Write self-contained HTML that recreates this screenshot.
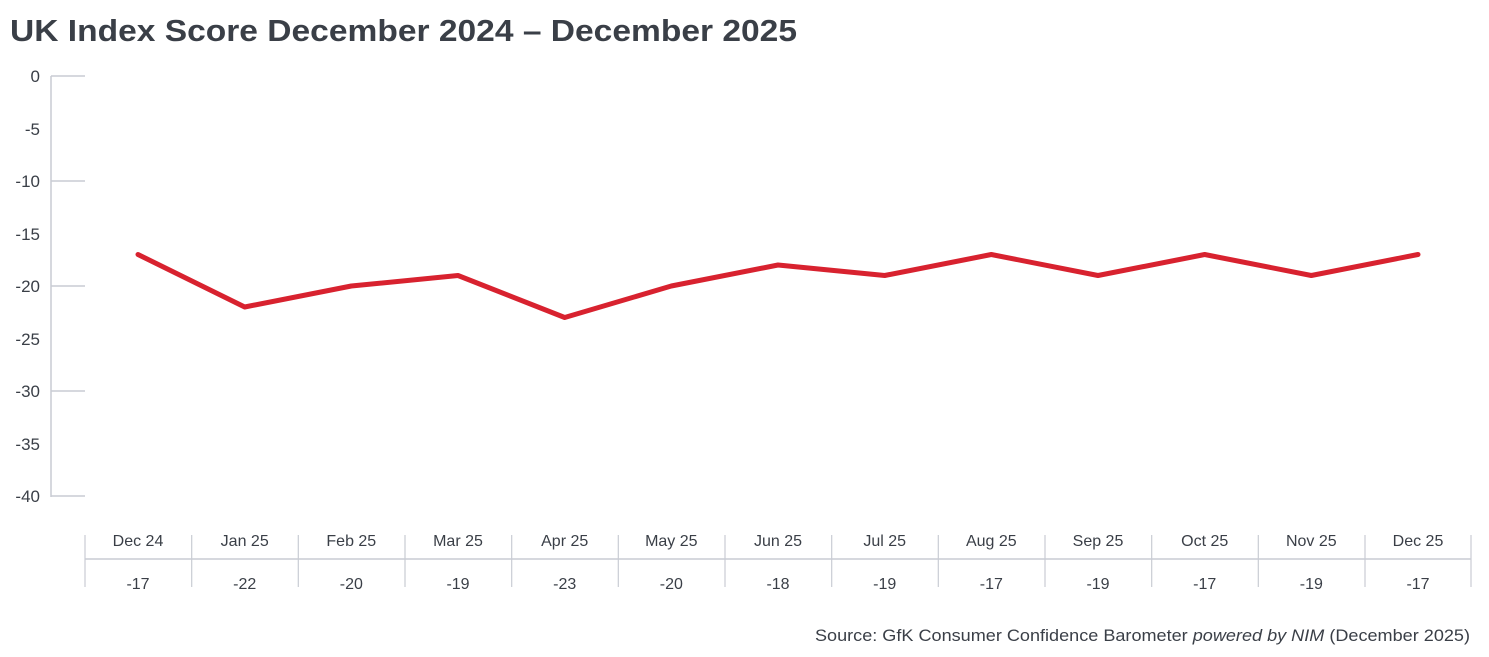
<!DOCTYPE html>
<html><head><meta charset="utf-8"><style>
html,body{margin:0;padding:0;background:#fff;}
svg{display:block;}
text{font-family:"Liberation Sans",sans-serif;fill:#3a3f47;}
</style></head><body>
<svg width="1489" height="657" viewBox="0 0 1489 657" xmlns="http://www.w3.org/2000/svg">
<text x="10" y="41" font-size="31" font-weight="bold" fill="#2e343c" textLength="787" lengthAdjust="spacingAndGlyphs">UK Index Score December 2024 – December 2025</text>
<g stroke="#c9ccd3" stroke-width="1.5">
<line x1="51" y1="76" x2="51" y2="497"/>
<line x1="51" y1="76" x2="85" y2="76"/>
<line x1="51" y1="181" x2="85" y2="181"/>
<line x1="51" y1="286" x2="85" y2="286"/>
<line x1="51" y1="391" x2="85" y2="391"/>
<line x1="51" y1="496" x2="85" y2="496"/>
<line x1="85" y1="559" x2="1471" y2="559"/>
</g>
<g font-size="17" text-anchor="end">
<text x="40" y="82">0</text>
<text x="40" y="135">-5</text>
<text x="40" y="187">-10</text>
<text x="40" y="240">-15</text>
<text x="40" y="292">-20</text>
<text x="40" y="345">-25</text>
<text x="40" y="397">-30</text>
<text x="40" y="450">-35</text>
<text x="40" y="502">-40</text>
</g>
<g stroke="#c9ccd3" stroke-width="1.2">
<line x1="85" y1="535" x2="85" y2="587"/>
<line x1="191.7" y1="535" x2="191.7" y2="587"/>
<line x1="298.3" y1="535" x2="298.3" y2="587"/>
<line x1="405" y1="535" x2="405" y2="587"/>
<line x1="511.7" y1="535" x2="511.7" y2="587"/>
<line x1="618.3" y1="535" x2="618.3" y2="587"/>
<line x1="725" y1="535" x2="725" y2="587"/>
<line x1="831.7" y1="535" x2="831.7" y2="587"/>
<line x1="938.3" y1="535" x2="938.3" y2="587"/>
<line x1="1045" y1="535" x2="1045" y2="587"/>
<line x1="1151.7" y1="535" x2="1151.7" y2="587"/>
<line x1="1258.3" y1="535" x2="1258.3" y2="587"/>
<line x1="1365" y1="535" x2="1365" y2="587"/>
<line x1="1471" y1="535" x2="1471" y2="587"/>
</g>
<g font-size="16" text-anchor="middle">
<text x="138" y="546">Dec 24</text><text x="244.7" y="546">Jan 25</text><text x="351.3" y="546">Feb 25</text><text x="458" y="546">Mar 25</text><text x="564.7" y="546">Apr 25</text><text x="671.3" y="546">May 25</text><text x="778" y="546">Jun 25</text><text x="884.7" y="546">Jul 25</text><text x="991.3" y="546">Aug 25</text><text x="1098" y="546">Sep 25</text><text x="1204.7" y="546">Oct 25</text><text x="1311.3" y="546">Nov 25</text><text x="1418" y="546">Dec 25</text>
<text x="138" y="589">-17</text><text x="244.7" y="589">-22</text><text x="351.3" y="589">-20</text><text x="458" y="589">-19</text><text x="564.7" y="589">-23</text><text x="671.3" y="589">-20</text><text x="778" y="589">-18</text><text x="884.7" y="589">-19</text><text x="991.3" y="589">-17</text><text x="1098" y="589">-19</text><text x="1204.7" y="589">-17</text><text x="1311.3" y="589">-19</text><text x="1418" y="589">-17</text>
</g>
<polyline fill="none" stroke="#d8222f" stroke-width="5" stroke-linejoin="round" stroke-linecap="round" points="138,254.5 244.7,307 351.3,286 458,275.5 564.7,317.5 671.3,286 778,265 884.7,275.5 991.3,254.5 1098,275.5 1204.7,254.5 1311.3,275.5 1418,254.5"/>
<text x="1470" y="641" font-size="16.5" text-anchor="end" textLength="655" lengthAdjust="spacingAndGlyphs">Source: GfK Consumer Confidence Barometer <tspan font-style="italic">powered by NIM</tspan> (December 2025)</text>
</svg>
</body></html>
